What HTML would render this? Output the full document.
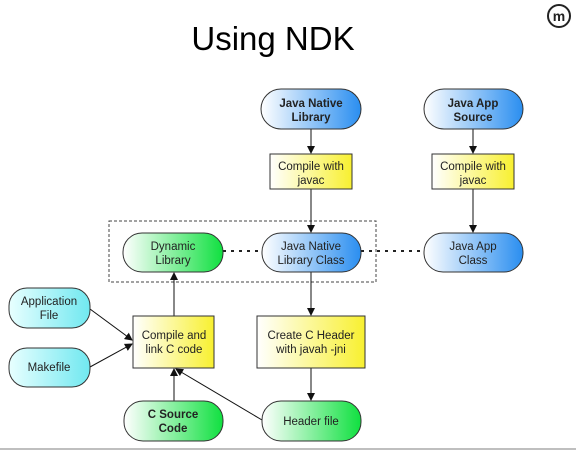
<!DOCTYPE html>
<html><head><meta charset="utf-8"><style>
html,body{margin:0;padding:0;background:#fff;width:576px;height:451px;overflow:hidden}
text{font-family:"Liberation Sans",sans-serif;font-size:11.5px;fill:#222;text-anchor:middle}
.b{font-weight:bold}
</style></head><body>
<svg width="576" height="451" xmlns="http://www.w3.org/2000/svg">
<defs>
<linearGradient id="bl" x1="0" x2="1"><stop offset="0" stop-color="#fff"/><stop offset="1" stop-color="#2a8ef0"/></linearGradient>
<linearGradient id="gr" x1="0" x2="1"><stop offset="0" stop-color="#fff"/><stop offset="1" stop-color="#10e040"/></linearGradient>
<linearGradient id="cy" x1="0" x2="1"><stop offset="0" stop-color="#e8ffff"/><stop offset="1" stop-color="#70e8f0"/></linearGradient>
<linearGradient id="ye" x1="0" x2="1"><stop offset="0" stop-color="#fff"/><stop offset="1" stop-color="#f8f030"/></linearGradient>
<marker id="a" markerWidth="8" markerHeight="8" refX="7" refY="4" orient="auto" markerUnits="userSpaceOnUse"><path d="M0,0 L8,4 L0,8 z" fill="#111"/></marker>
</defs>
<text x="273" y="50" style="font-size:33px;fill:#000">Using NDK</text>
<circle cx="559" cy="16" r="11" fill="none" stroke="#222" stroke-width="2"/>
<text x="559" y="21" style="font-size:14px;fill:#222;font-weight:bold">m</text>
<line x1="0" y1="449" x2="576" y2="449" stroke="#aaa" stroke-width="1.5"/>

<rect x="109" y="221" width="267" height="61" fill="none" stroke="#444" stroke-dasharray="3,2"/>
<line x1="223" y1="251" x2="262" y2="251" stroke="#222" stroke-width="2" stroke-dasharray="3,5"/>
<line x1="361" y1="251" x2="424" y2="251" stroke="#222" stroke-width="2" stroke-dasharray="3,5"/>

<g stroke="#111" stroke-width="1" fill="none">
<line x1="311" y1="129" x2="311" y2="153" marker-end="url(#a)"/>
<line x1="473" y1="129" x2="473" y2="153" marker-end="url(#a)"/>
<line x1="311" y1="189" x2="311" y2="232" marker-end="url(#a)"/>
<line x1="473" y1="189" x2="473" y2="232" marker-end="url(#a)"/>
<line x1="311" y1="272" x2="311" y2="315" marker-end="url(#a)"/>
<line x1="311" y1="368" x2="311" y2="400" marker-end="url(#a)"/>
<line x1="174" y1="316" x2="174" y2="273" marker-end="url(#a)"/>
<line x1="174" y1="401" x2="174" y2="369" marker-end="url(#a)"/>
<line x1="262" y1="420" x2="176" y2="369" marker-end="url(#a)"/>
<line x1="90" y1="309" x2="132" y2="340" marker-end="url(#a)"/>
<line x1="90" y1="367" x2="132" y2="344" marker-end="url(#a)"/>
</g>

<g stroke="#333" stroke-width="1">
<rect x="261" y="89" width="100" height="40" rx="20" fill="url(#bl)"/>
<rect x="424" y="89" width="99" height="40" rx="20" fill="url(#bl)"/>
<rect x="270" y="154" width="82" height="35" fill="url(#ye)"/>
<rect x="432" y="154" width="82" height="35" fill="url(#ye)"/>
<rect x="123" y="233" width="100" height="39" rx="19" fill="url(#gr)"/>
<rect x="262" y="233" width="99" height="39" rx="19" fill="url(#bl)"/>
<rect x="424" y="233" width="99" height="39" rx="19" fill="url(#bl)"/>
<rect x="9" y="288" width="81" height="40" rx="18" fill="url(#cy)"/>
<rect x="9" y="348" width="81" height="39" rx="18" fill="url(#cy)"/>
<rect x="133" y="316" width="81" height="52" fill="url(#ye)"/>
<rect x="257" y="316" width="108" height="52" fill="url(#ye)"/>
<rect x="124" y="401" width="99" height="40" rx="19" fill="url(#gr)"/>
<rect x="262" y="401" width="99" height="40" rx="19" fill="url(#gr)"/>
</g>

<text class="b" x="311" y="107">Java Native</text><text class="b" x="311" y="121">Library</text>
<text class="b" x="473" y="107">Java App</text><text class="b" x="473" y="121">Source</text>
<text x="311" y="170">Compile with</text><text x="311" y="184">javac</text>
<text x="473" y="170">Compile with</text><text x="473" y="184">javac</text>
<text x="173" y="250">Dynamic</text><text x="173" y="264">Library</text>
<text x="311" y="250">Java Native</text><text x="311" y="264">Library Class</text>
<text x="473" y="250">Java App</text><text x="473" y="264">Class</text>
<text x="49" y="305">Application</text><text x="49" y="319">File</text>
<text x="49" y="371">Makefile</text>
<text x="174" y="339">Compile and</text><text x="174" y="353">link C code</text>
<text x="311" y="339">Create C Header</text><text x="311" y="353">with javah -jni</text>
<text class="b" x="173" y="418">C Source</text><text class="b" x="173" y="432">Code</text>
<text x="311" y="425">Header file</text>
</svg>
</body></html>
